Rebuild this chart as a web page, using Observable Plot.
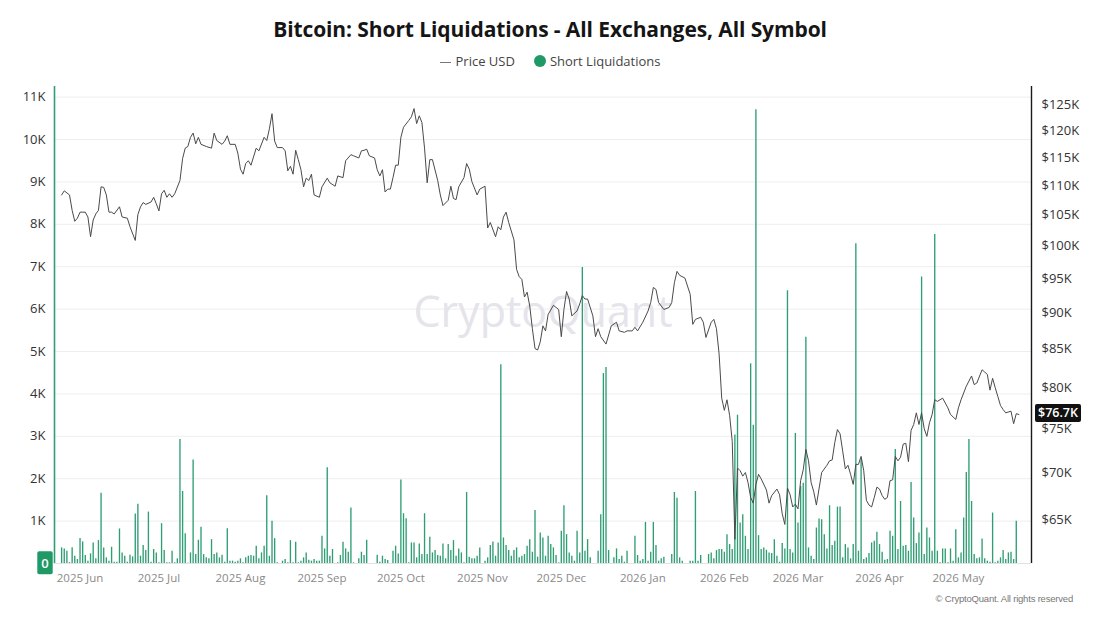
<!DOCTYPE html>
<html><head><meta charset="utf-8">
<script src="https://cdn.jsdelivr.net/npm/d3@7"></script>
<script src="https://cdn.jsdelivr.net/npm/@observablehq/plot@0.6"></script>
<style>
body{margin:0;background:#fff;font-family:"Open Sans",sans-serif;}
#wrap{position:relative;width:1100px;height:619px;overflow:hidden;background:#fff;}
#title{position:absolute;top:15px;left:0;width:1100px;text-align:center;font-weight:700;font-size:21px;color:#151515;letter-spacing:-0.1px;}
#legend{position:absolute;top:52px;left:0;width:1100px;text-align:center;font-size:13px;color:#444;}
#legend .ln{display:inline-block;width:11px;height:1px;background:#777;vertical-align:middle;margin-right:5px;}
#legend .dot{display:inline-block;width:12px;height:12px;border-radius:50%;background:#1f9a67;vertical-align:-1px;margin:0 4px 0 19px;}
#chart{position:absolute;top:75px;left:0;}
#credit{position:absolute;top:593px;right:27px;font-family:"Liberation Sans",Arial,sans-serif;font-size:9.5px;color:#777;letter-spacing:-0.2px;}
</style></head>
<body>
<div id="wrap">
  <div id="title">Bitcoin: Short Liquidations - All Exchanges, All Symbol</div>
  <div id="legend"><span class="ln"></span>Price USD<span class="dot"></span>Short Liquidations</div>
  <div id="chart"></div>
  <div id="credit">© CryptoQuant. All rights reserved</div>
</div>
<script>
// ---- data ----
const liqStart = "2025-05-25"; // first daily bar
const shortLiquidations = [
370,344,290,20,370,172,94,587,509,188,
55,227,485,110,540,1659,368,133,55,383,
31,31,814,250,172,31,196,156,1166,1400,
172,423,305,1213,31,329,250,16,939,305,
16,16,290,16,110,2926,1698,704,5,250,
2441,211,548,853,211,133,110,563,211,250,
133,196,31,822,55,55,31,55,110,16,
133,172,188,172,407,110,250,407,1596,172,
994,587,16,0,55,94,16,540,16,501,
16,55,133,250,78,55,94,55,55,642,
344,2261,172,329,0,16,188,501,344,266,
1307,16,0,110,266,188,548,0,0,0,
196,31,172,94,70,0,290,407,227,1972,
1174,1056,16,485,485,133,462,211,1174,211,
618,250,305,188,172,462,110,446,305,540,
172,344,250,16,1674,149,110,110,172,368,
0,55,133,423,509,172,485,4690,603,423,
305,172,305,368,133,172,211,407,563,266,
1252,149,720,603,172,642,446,368,188,16,
759,1362,681,250,172,55,759,250,6980,290,
563,133,0,0,290,1150,4480,4620,305,0,
133,344,94,172,31,290,0,0,642,188,
55,94,970,55,266,970,423,55,110,149,
0,0,211,1674,1541,133,55,0,0,55,
55,1698,55,188,0,0,211,250,110,305,
329,329,266,681,446,329,3028,3498,955,1150,
642,329,4710,3263,10700,657,329,368,313,250,
235,563,172,31,469,344,6432,329,250,3067,
955,1815,1894,5336,368,172,94,837,1049,1033,
681,344,1362,423,524,1330,1330,133,446,368,
110,446,7543,290,2440,94,133,235,485,524,
736,446,266,78,94,759,642,2690,329,1463,
407,423,290,1909,1072,470,720,6760,211,837,
603,290,7760,290,16,344,344,16,344,55,
798,133,250,1072,2144,2926,1463,211,110,133,
579,110,55,31,1190,16,55,133,305,94,
250,266,94,994
];
// BTC price (thousand USD)
const pricePoints = [
["2025-05-25",108.4],["2025-05-26",109.1],["2025-05-28",108.4],["2025-05-29",105.8],["2025-05-30",104.0],["2025-05-31",104.5],
["2025-06-01",105.5],["2025-06-03",105.5],["2025-06-04",104.7],["2025-06-05",101.5],["2025-06-06",104.2],["2025-06-07",105.2],
["2025-06-08",105.8],["2025-06-09",109.8],["2025-06-10",109.7],["2025-06-11",108.4],["2025-06-12",105.5],["2025-06-13",105.5],
["2025-06-14",105.2],["2025-06-16",106.4],["2025-06-17",104.7],["2025-06-19",104.5],["2025-06-20",103.1],["2025-06-22",100.9],
["2025-06-23",105.1],["2025-06-24",106.4],["2025-06-25",107.1],["2025-06-26",106.8],["2025-06-28",107.2],["2025-06-29",108.0],
["2025-06-30",106.9],["2025-07-01",105.7],["2025-07-02",108.6],["2025-07-03",109.2],["2025-07-04",108.0],["2025-07-05",108.6],
["2025-07-06",108.0],["2025-07-07",108.6],["2025-07-09",110.9],["2025-07-10",114.8],["2025-07-11",116.7],["2025-07-12",117.0],
["2025-07-13",118.7],["2025-07-14",119.5],["2025-07-15",117.5],["2025-07-16",118.7],["2025-07-17",117.4],["2025-07-19",117.0],
["2025-07-21",116.7],["2025-07-22",119.5],["2025-07-23",118.1],["2025-07-25",117.4],["2025-07-26",118.0],["2025-07-27",119.0],
["2025-07-28",117.4],["2025-07-30",117.4],["2025-07-31",115.8],["2025-08-01",112.9],["2025-08-02",112.0],["2025-08-03",113.9],
["2025-08-04",114.4],["2025-08-05",113.6],["2025-08-07",116.7],["2025-08-08",116.2],["2025-08-10",118.7],["2025-08-11",118.1],
["2025-08-12",120.3],["2025-08-13",123.2],["2025-08-14",118.0],["2025-08-15",116.8],["2025-08-17",116.8],["2025-08-18",116.2],
["2025-08-19",112.6],["2025-08-20",113.4],["2025-08-21",112.0],["2025-08-22",116.3],["2025-08-23",114.6],["2025-08-24",112.8],
["2025-08-25",109.8],["2025-08-26",111.3],["2025-08-27",110.9],["2025-08-28",112.0],["2025-08-29",108.4],["2025-08-31",108.0],
["2025-09-01",109.8],["2025-09-03",111.3],["2025-09-04",110.5],["2025-09-06",109.9],["2025-09-07",111.7],["2025-09-09",111.4],
["2025-09-10",114.4],["2025-09-12",115.5],["2025-09-13",115.3],["2025-09-15",114.9],["2025-09-16",116.2],["2025-09-17",116.3],
["2025-09-18",116.5],["2025-09-19",115.3],["2025-09-21",114.9],["2025-09-22",112.8],["2025-09-23",111.7],["2025-09-24",112.8],
["2025-09-25",108.9],["2025-09-26",109.4],["2025-09-27",109.4],["2025-09-28",111.4],["2025-09-29",113.6],["2025-09-30",113.6],
["2025-10-01",118.7],["2025-10-02",120.6],["2025-10-04",121.9],["2025-10-05",122.6],["2025-10-06",124.2],["2025-10-07",121.3],
["2025-10-08",122.8],["2025-10-09",121.5],["2025-10-10",116.7],["2025-10-11",110.5],["2025-10-12",114.6],["2025-10-13",114.6],
["2025-10-15",110.9],["2025-10-16",108.4],["2025-10-17",106.6],["2025-10-19",107.5],["2025-10-20",109.9],["2025-10-21",107.8],
["2025-10-22",107.6],["2025-10-23",109.8],["2025-10-25",111.4],["2025-10-26",113.9],["2025-10-27",112.9],["2025-10-28",110.7],
["2025-10-30",108.4],["2025-10-31",109.4],["2025-11-02",109.9],["2025-11-03",102.9],["2025-11-04",103.8],["2025-11-06",101.5],
["2025-11-07",103.1],["2025-11-08",102.6],["2025-11-09",104.7],["2025-11-10",105.5],["2025-11-11",103.8],["2025-11-13",101.0],
["2025-11-14",96.4],["2025-11-15",95.3],["2025-11-16",94.9],["2025-11-17",92.3],["2025-11-18",93.0],["2025-11-19",91.0],
["2025-11-20",87.8],["2025-11-21",85.1],["2025-11-22",84.9],["2025-11-23",86.0],["2025-11-24",88.2],["2025-11-25",87.5],
["2025-11-26",89.8],["2025-11-28",91.1],["2025-11-30",90.5],["2025-12-01",86.7],["2025-12-02",90.5],["2025-12-03",93.1],
["2025-12-04",92.0],["2025-12-05",89.6],["2025-12-07",90.3],["2025-12-08",91.3],["2025-12-09",92.5],["2025-12-10",92.0],
["2025-12-11",92.0],["2025-12-13",89.6],["2025-12-14",86.7],["2025-12-15",87.8],["2025-12-16",86.7],["2025-12-18",85.7],
["2025-12-20",88.2],["2025-12-22",88.7],["2025-12-23",87.5],["2025-12-25",87.3],["2025-12-26",87.5],["2025-12-28",87.5],
["2025-12-29",88.0],["2025-12-30",87.5],["2026-01-01",88.7],["2026-01-03",90.3],["2026-01-04",91.5],["2026-01-05",93.7],
["2026-01-06",93.4],["2026-01-07",91.5],["2026-01-09",90.5],["2026-01-11",90.8],["2026-01-12",91.5],["2026-01-13",94.4],
["2026-01-14",96.1],["2026-01-15",95.5],["2026-01-17",95.1],["2026-01-19",92.7],["2026-01-20",88.4],["2026-01-21",89.1],
["2026-01-23",89.4],["2026-01-24",88.7],["2026-01-25",86.6],["2026-01-27",88.7],["2026-01-28",89.1],["2026-01-29",87.8],
["2026-01-30",84.4],["2026-01-31",78.7],["2026-02-01",77.2],["2026-02-02",78.5],["2026-02-03",76.6],["2026-02-04",73.5],
["2026-02-05",63.0],["2026-02-06",70.5],["2026-02-07",70.2],["2026-02-08",69.6],["2026-02-09",70.0],["2026-02-10",68.9],
["2026-02-11",67.3],["2026-02-12",66.7],["2026-02-13",68.7],["2026-02-14",69.8],["2026-02-15",69.3],["2026-02-17",68.1],
["2026-02-18",66.7],["2026-02-19",67.5],["2026-02-21",68.2],["2026-02-22",67.6],["2026-02-23",65.6],["2026-02-24",64.5],
["2026-02-25",68.3],["2026-02-26",67.6],["2026-02-27",66.3],["2026-02-28",66.6],["2026-03-01",66.1],["2026-03-02",69.1],
["2026-03-03",70.3],["2026-03-04",72.6],["2026-03-05",71.3],["2026-03-06",68.9],["2026-03-07",67.9],["2026-03-08",66.5],
["2026-03-10",70.0],["2026-03-12",70.8],["2026-03-13",71.3],["2026-03-14",71.4],["2026-03-15",73.4],["2026-03-16",74.9],
["2026-03-17",74.4],["2026-03-18",72.4],["2026-03-19",70.4],["2026-03-20",70.8],["2026-03-21",69.8],["2026-03-22",68.7],
["2026-03-23",70.9],["2026-03-24",70.9],["2026-03-25",71.8],["2026-03-26",70.2],["2026-03-27",67.0],["2026-03-28",66.5],
["2026-03-29",66.3],["2026-03-30",67.3],["2026-03-31",68.4],["2026-04-01",68.2],["2026-04-02",67.5],["2026-04-03",67.1],
["2026-04-04",67.3],["2026-04-05",69.1],["2026-04-06",69.2],["2026-04-07",71.8],["2026-04-08",71.3],["2026-04-09",71.7],
["2026-04-10",73.2],["2026-04-11",73.3],["2026-04-12",71.2],["2026-04-13",74.8],["2026-04-14",75.5],["2026-04-15",76.9],
["2026-04-16",75.5],["2026-04-17",76.9],["2026-04-18",75.0],["2026-04-19",74.1],["2026-04-20",75.7],["2026-04-21",76.7],
["2026-04-22",78.5],["2026-04-23",78.3],["2026-04-25",78.7],["2026-04-27",77.5],["2026-04-28",76.7],["2026-04-30",76.1],
["2026-05-01",77.5],["2026-05-02",78.5],["2026-05-04",80.2],["2026-05-06",81.5],["2026-05-07",80.4],["2026-05-08",80.6],
["2026-05-10",82.3],["2026-05-11",82.0],["2026-05-12",81.7],["2026-05-13",79.7],["2026-05-14",81.2],["2026-05-15",80.0],
["2026-05-16",78.9],["2026-05-17",77.8],["2026-05-18",77.3],["2026-05-19",76.9],["2026-05-21",77.1],["2026-05-22",75.6],
["2026-05-23",76.8],["2026-05-24",76.7]
];
const leftTicks = [1000,2000,3000,4000,5000,6000,7000,8000,9000,10000,11000];
const priceTicks = [65,70,75,80,85,90,95,100,105,110,115,120,125]; // thousand USD
const lastPrice = 76.7;
const xDomain = [new Date(Date.UTC(2025,4,22,7)), new Date(Date.UTC(2026,4,28,19))];
const monthTicks = d3.utcMonths(new Date(Date.UTC(2025,5,1)), new Date(Date.UTC(2026,5,1)));

// ---- build ----
const start = new Date(liqStart + "T00:00:00Z");
const liq = shortLiquidations.map((v, i) => ({date: d3.utcDay.offset(start, i), value: v}));
const price = pricePoints.map(([d, p]) => ({date: new Date(d + "T00:00:00Z"), price: p * 1000}));

const yMax = 11250;
const pMin = 60650, pMax = 128600;
const yPrice = d3.scaleLog().domain([pMin, pMax]).range([0, yMax]);

const green = "#2f9e74";
const chart = Plot.plot({
  width: 1100, height: 530,
  marginLeft: 54, marginRight: 69, marginTop: 11, marginBottom: 42,
  style: {fontFamily: "'Open Sans', sans-serif", background: "#fff", overflow: "visible"},
  x: {type: "utc", domain: xDomain},
  y: {type: "linear", domain: [0, yMax]},
  marks: [
    Plot.gridY(leftTicks, {stroke: "#eeeeee", strokeOpacity: 1}),
    Plot.text(["CryptoQuant"], {frameAnchor: "middle", dy: -12, fontSize: 43, fill: "#e4e4ea", fontWeight: 500}),
    Plot.ruleY([0], {stroke: "#e2e2e2"}),
    Plot.ruleX(liq, {x: "date", y1: 0, y2: "value", stroke: green, strokeWidth: 1.35}),
    Plot.line(price, {x: "date", y: d => yPrice(d.price), stroke: "#4a4a4a", strokeWidth: 1.0}),
    Plot.ruleX([xDomain[0]], {stroke: green, strokeWidth: 1.6}),
    Plot.ruleX([xDomain[1]], {stroke: "#1a1a1a", strokeWidth: 1.4}),
    Plot.axisX(monthTicks, {tickSize: 0, tickPadding: 10, fontSize: 11.5, fill: "#8a8a8a", tickFormat: d3.utcFormat("%Y %b"), label: null}),
    Plot.axisY(leftTicks, {anchor: "left", tickSize: 0, tickPadding: 9, fontSize: 13, fill: "#333", tickFormat: d => d / 1000 + "K", label: null}),
    Plot.axisY(priceTicks.map(p => yPrice(p * 1000)), {anchor: "right", tickSize: 0, tickPadding: 10, fontSize: 13, fill: "#333",
      tickFormat: v => "$" + Math.round(yPrice.invert(v) / 1000) + "K", label: null}),
    Plot.text([0], {frameAnchor: "left", textAnchor: "middle", y: d => d, text: d => String(d), dx: -9.5, fill: "#fff", fontSize: 13, fontWeight: 600}),
    Plot.text([lastPrice], {frameAnchor: "right", textAnchor: "middle", y: d => yPrice(d * 1000), text: d => "$" + d + "K", dx: 26.5, dy: -1, fill: "#fff", fontSize: 12.5, fontWeight: 600})
  ]
});
document.getElementById("chart").appendChild(chart);

// draw a filled box behind a library-placed text label
function badge(content, fill, padX, padY) {
  chart.querySelectorAll("text").forEach(t => {
    if (t.textContent !== content || t.closest('[aria-label^="y-axis"]')) return;
    const g = t.parentNode;
    if (g.getAttribute("fill") !== "#fff" && t.getAttribute("fill") !== "#fff") return;
    const b = t.getBBox();
    const r = document.createElementNS("http://www.w3.org/2000/svg", "rect");
    r.setAttribute("x", b.x - padX);
    r.setAttribute("y", b.y - padY);
    r.setAttribute("width", b.width + 2 * padX);
    r.setAttribute("height", b.height + 2 * padY);
    r.setAttribute("rx", 2);
    r.setAttribute("fill", fill);
    const tr = t.getAttribute("transform");
    if (tr) r.setAttribute("transform", tr);
    g.insertBefore(r, t);
  });
}
badge("0", "#1f9a67", 4, 2.5);
badge("$" + lastPrice + "K", "#111", 3, 0.5);
</script>
</body></html>
